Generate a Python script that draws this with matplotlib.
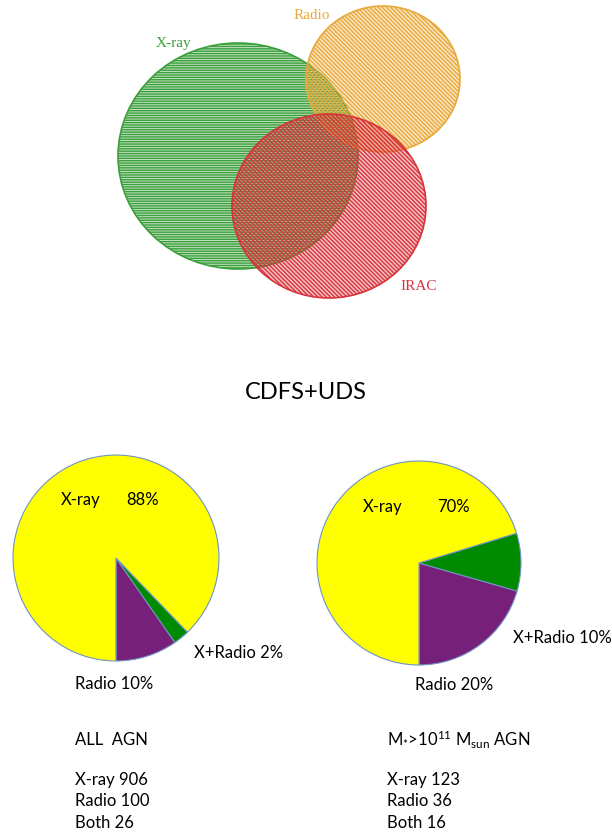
import matplotlib
matplotlib.use("Agg")
import matplotlib.pyplot as plt
from matplotlib.patches import Ellipse

# venn diagram sets (centre x, centre y, width, height in picture pixels)
vennNames = ["X-ray", "Radio", "IRAC"]
vennColors = ["#3a9f3a", "#e9a93a", "#d8333b"]
vennHatch = ["-" * 7, "\\" * 8, "\\" * 8]
vennShapes = [(238, 156, 240, 226), (383, 79, 154, 146), (329, 206, 194, 184)]
vennLabelPos = [(173, 43), (312, 15), (419, 287)]

# pie data: counts of AGN
pieNames = ["Radio", "X+Radio", "X-ray"]
pieColors = ["#76207a", "#008a00", "#ffff00"]
allCounts = [100, 26, 906]
massiveCounts = [36, 16, 123]

plt.rcParams['font.family'] = ['Lato', 'DejaVu Sans']
plt.rcParams['hatch.linewidth'] = 1.0
plt.rcParams['mathtext.fontset'] = 'custom'
plt.rcParams['mathtext.rm'] = 'Lato'
plt.rcParams['mathtext.it'] = 'Lato'

W, H = 612, 834
fig = plt.figure(figsize=(W / 100, H / 100), dpi=100)

# main overlay axes in pixel coordinates
ax = fig.add_axes([0, 0, 1, 1])
ax.set_xlim(0, W)
ax.set_ylim(H, 0)
ax.axis("off")
ax.patch.set_visible(False)
ax.set_zorder(3)

for (cx, cy, w, h), col, hat in zip(vennShapes, vennColors, vennHatch):
    rgba = matplotlib.colors.to_rgba(col, 0.3)
    ax.add_patch(Ellipse((cx, cy), w, h, facecolor=rgba, edgecolor=col,
                         hatch=hat, linewidth=1.2))
for name, col, (x, y) in zip(vennNames, vennColors, vennLabelPos):
    ax.text(x, y, name, color=col, fontsize=11, family="Liberation Serif",
            ha="center", va="center")

ax.text(306, 392, "CDFS+UDS", fontsize=17, ha="center", va="center")


def draw_pie(counts, cx, cy, r):
    """ Draws pie on its own axes centred at pixel (cx, cy) with radius r """
    pax = fig.add_axes([(cx - r) / W, 1 - (cy + r) / H, 2 * r / W, 2 * r / H])
    pax.pie(counts, colors=pieColors, startangle=-90, counterclock=True,
            wedgeprops=dict(edgecolor="#6f93c4", linewidth=0.8))
    pax.set_xlim(-1.01, 1.01)
    pax.set_ylim(-1.01, 1.01)
    pax.set_aspect("equal")
    return pax


draw_pie(allCounts, 116, 558, 104)
draw_pie(massiveCounts, 419, 563, 103)

fs = 12
# left pie labels
ax.text(61, 500, "X-ray", fontsize=fs, va="center")
ax.text(126, 500, "88%", fontsize=fs, va="center")
ax.text(194, 653, "X+Radio 2%", fontsize=fs, va="center")
ax.text(75, 684, "Radio 10%", fontsize=fs, va="center")
# right pie labels
ax.text(363, 507, "X-ray", fontsize=fs, va="center")
ax.text(437, 507, "70%", fontsize=fs, va="center")
ax.text(513, 638, "X+Radio 10%", fontsize=fs, va="center")
ax.text(415, 685, "Radio 20%", fontsize=fs, va="center")

# summary text blocks
leftLines = ["X-ray 906", "Radio 100", "Both 26"]
rightLines = ["X-ray 123", "Radio 36", "Both 16"]
ax.text(75, 740, "ALL  AGN", fontsize=fs, va="center")
ax.text(387, 740, r"M$_{*}$>10$^{11}$ M$_{\mathrm{sun}}$ AGN", fontsize=fs, va="center")
for i, (a, b) in enumerate(zip(leftLines, rightLines)):
    ax.text(75, 780 + 21.5 * i, a, fontsize=fs, va="center")
    ax.text(387, 780 + 21.5 * i, b, fontsize=fs, va="center")

fig.savefig("out.png", dpi=100)
